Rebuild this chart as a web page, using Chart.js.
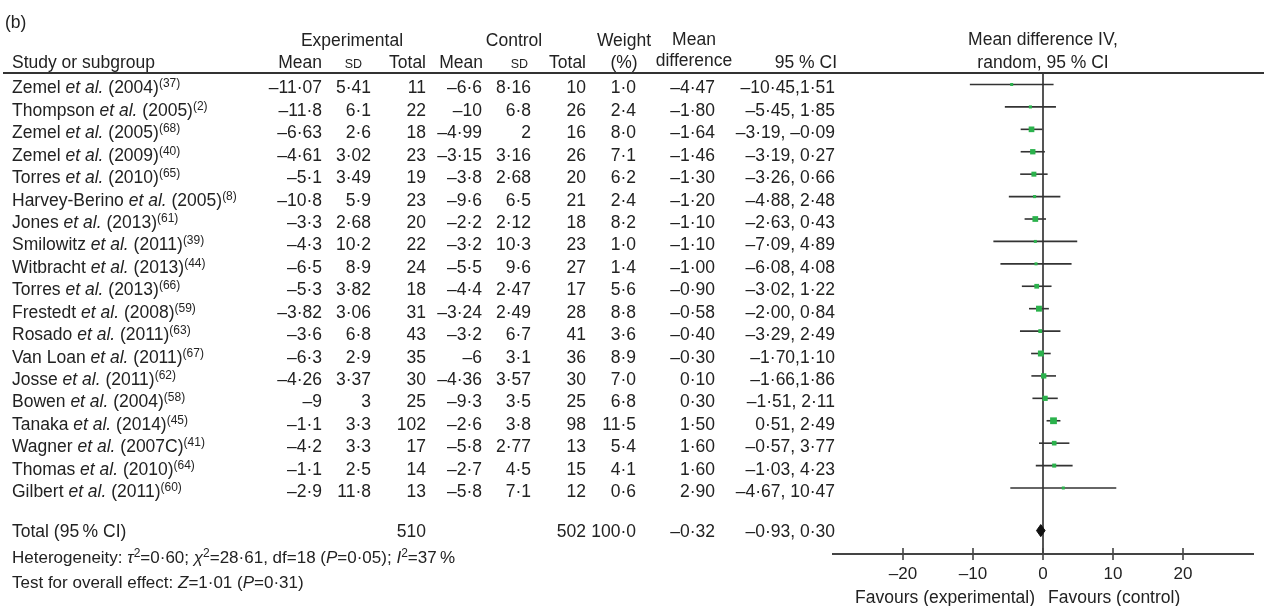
<!DOCTYPE html>
<html>
<head>
<meta charset="utf-8">
<script src="https://cdn.jsdelivr.net/npm/chart.js@4.4.0/dist/chart.umd.min.js"></script>
<style>
  body { margin: 0; background: #fff; }
  #wrap { position: relative; width: 1264px; height: 606px; overflow: hidden;
          font-family: 'Liberation Sans', Arial, sans-serif; color: #222; font-size: 17.5px; }
  #forest { position: absolute; left: 0; top: 0; }
  .t { position: absolute; line-height: 20px; white-space: nowrap; }
  .sup { font-size: 12px; vertical-align: 6px; line-height: 0; }
  .sc { font-size: 12.5px; }
  .foot { font-size: 17px; }
</style>
</head>
<body>
<div id="wrap"><canvas id="forest" width="1264" height="606"></canvas></div>
<script>
// study rows, top to bottom
const studyNames = ['Zemel', 'Thompson', 'Zemel', 'Zemel', 'Torres', 'Harvey-Berino', 'Jones', 'Smilowitz', 'Witbracht',
    'Torres', 'Frestedt', 'Rosado', 'Van Loan', 'Josse', 'Bowen', 'Tanaka', 'Wagner', 'Thomas', 'Gilbert'];
const studyYears = ['2004', '2005', '2005', '2009', '2010', '2005', '2013', '2011', '2013',
    '2013', '2008', '2011', '2011', '2011', '2004', '2014', '2007C', '2010', '2011'];
const studyRefs = ['37', '2', '68', '40', '65', '8', '61', '39', '44', '66', '59', '63', '67', '62', '58', '45', '41', '64', '60'];

const expMean = [-11.07, -11.8, -6.63, -4.61, -5.1, -10.8, -3.3, -4.3, -6.5, -5.3, -3.82, -3.6, -6.3, -4.26, -9, -1.1, -4.2, -1.1, -2.9];
const expSD = [5.41, 6.1, 2.6, 3.02, 3.49, 5.9, 2.68, 10.2, 8.9, 3.82, 3.06, 6.8, 2.9, 3.37, 3, 3.3, 3.3, 2.5, 11.8];
const expTotal = [11, 22, 18, 23, 19, 23, 20, 22, 24, 18, 31, 43, 35, 30, 25, 102, 17, 14, 13];
const ctlMean = [-6.6, -10, -4.99, -3.15, -3.8, -9.6, -2.2, -3.2, -5.5, -4.4, -3.24, -3.2, -6, -4.36, -9.3, -2.6, -5.8, -2.7, -5.8];
const ctlSD = [8.16, 6.8, 2, 3.16, 2.68, 6.5, 2.12, 10.3, 9.6, 2.47, 2.49, 6.7, 3.1, 3.57, 3.5, 3.8, 2.77, 4.5, 7.1];
const ctlTotal = [10, 26, 16, 26, 20, 21, 18, 23, 27, 17, 28, 41, 36, 30, 25, 98, 13, 15, 12];
const weights = [1.0, 2.4, 8.0, 7.1, 6.2, 2.4, 8.2, 1.0, 1.4, 5.6, 8.8, 3.6, 8.9, 7.0, 6.8, 11.5, 5.4, 4.1, 0.6];
const meanDiff = [-4.47, -1.80, -1.64, -1.46, -1.30, -1.20, -1.10, -1.10, -1.00, -0.90, -0.58, -0.40, -0.30, 0.10, 0.30, 1.50, 1.60, 1.60, 2.90];
const ciLow = [-10.45, -5.45, -3.19, -3.19, -3.26, -4.88, -2.63, -7.09, -6.08, -3.02, -2.00, -3.29, -1.70, -1.66, -1.51, 0.51, -0.57, -1.03, -4.67];
const ciHigh = [1.51, 1.85, -0.09, 0.27, 0.66, 2.48, 0.43, 4.89, 4.08, 1.22, 0.84, 2.49, 1.10, 1.86, 2.11, 2.49, 3.77, 4.23, 10.47];
const ciNoSpace = [0, 12, 13]; // rows printed as "a,b" in the original

// pooled result
const totalExp = 510;
const totalCtl = 502;
const totalWeight = 100.0;
const totalMD = -0.32;
const totalLow = -0.93;
const totalHigh = 0.30;

const xTicks = [-20, -10, 0, 10, 20];

// layout
const W = 1264;
const totalRowPos = 19.9;
const colRight = [322, 371, 426, 482, 531, 586, 636, 715, 835];
const green = '#2bb24c';

const fmt = (v, d) => (d == null ? String(v) : v.toFixed(d)).replace('-', '\u2013').replace('.', '\u00b7');

// CI lines, one small dataset per study
const ciSets = studyNames.map((n, i) => ({
    type: 'scatter',
    showLine: true,
    data: [{ x: ciLow[i], y: i }, { x: ciHigh[i], y: i }],
    borderColor: '#333',
    borderWidth: 1.6,
    pointRadius: 0,
    order: 2,
}));

const pointSet = {
    type: 'scatter',
    data: meanDiff.map((v, i) => ({ x: v, y: i })),
    pointStyle: 'rect',
    pointRadius: weights.map(w => Math.max(3, 2.0 * Math.sqrt(w)) / Math.SQRT2),
    backgroundColor: green,
    borderWidth: 0,
    order: 0,
};

const dh = 0.27;
const diamondSet = {
    type: 'scatter',
    showLine: true,
    data: [
        { x: totalLow, y: totalRowPos }, { x: totalMD, y: totalRowPos - dh },
        { x: totalHigh, y: totalRowPos }, { x: totalMD, y: totalRowPos + dh },
        { x: totalLow, y: totalRowPos },
    ],
    borderColor: '#111',
    borderWidth: 1,
    backgroundColor: '#111',
    fill: 'shape',
    pointRadius: 0,
    order: 0,
};

const upperTicks = {
    id: 'upperTicks',
    afterDatasetsDraw(chart) {
        const { ctx, scales: { x }, chartArea } = chart;
        ctx.save();
        ctx.strokeStyle = '#444';
        ctx.lineWidth = 1.6;
        xTicks.forEach(v => {
            const px = x.getPixelForValue(v);
            ctx.beginPath();
            ctx.moveTo(px, chartArea.bottom - 6);
            ctx.lineTo(px, chartArea.bottom);
            ctx.stroke();
        });
        ctx.restore();
    }
};

const chart = new Chart(document.getElementById('forest').getContext('2d'), {
    type: 'scatter',
    data: { datasets: [pointSet, diamondSet, ...ciSets] },
    options: {
        responsive: false,
        animation: false,
        events: [],
        layout: { padding: { left: 833, right: 11, top: 73, bottom: 0 } },
        plugins: { legend: { display: false }, tooltip: { enabled: false } },
        scales: {
            x: {
                type: 'linear',
                min: -30,
                max: 30,
                afterBuildTicks: s => { s.ticks = xTicks.map(v => ({ value: v })); },
                afterFit: s => { s.height = 52; },
                grid: {
                    color: c => (c.tick && c.tick.value === 0 ? '#555' : 'rgba(0,0,0,0)'),
                    lineWidth: 2,
                    tickColor: '#444',
                    tickLength: 6,
                    tickWidth: 1.6,
                },
                border: { color: '#444', width: 2 },
                ticks: {
                    color: '#222',
                    font: { family: "'Liberation Sans', Arial, sans-serif", size: 17 },
                    padding: 4,
                    callback: v => fmt(v),
                },
            },
            y: { type: 'linear', reverse: true, min: -0.513, max: 20.944, display: false },
        },
    },
    plugins: [upperTicks],
});

// table text, placed on the chart's own row scale
const wrap = document.getElementById('wrap');
function put(html, x, y, align, cls) {
    const d = document.createElement('div');
    d.className = 't' + (cls ? ' ' + cls : '');
    d.innerHTML = html;
    d.style.top = (y - 10) + 'px';
    if (align === 'right') {
        d.style.right = (W - x) + 'px';
    } else if (align === 'center') {
        d.style.left = (x - 150) + 'px';
        d.style.width = '300px';
        d.style.textAlign = 'center';
    } else {
        d.style.left = x + 'px';
    }
    wrap.appendChild(d);
}

const yS = chart.scales.y;
const xS = chart.scales.x;
const zeroX = xS.getPixelForValue(0);

// header
put('(b)', 5, 22);
put('Experimental', 352, 40, 'center');
put('Control', 514, 40, 'center');
put('Weight', 624, 40, 'center');
put('Mean', 694, 39, 'center');
put('Mean difference IV,', zeroX, 39, 'center');
put('Study or subgroup', 12, 62);
put('Mean', colRight[0], 62, 'right');
put('<span class="sc">SD</span>', 362, 62, 'right');
put('Total', colRight[2], 62, 'right');
put('Mean', colRight[3] + 1, 62, 'right');
put('<span class="sc">SD</span>', 528, 62, 'right');
put('Total', colRight[5], 62, 'right');
put('(%)', 624, 62, 'center');
put('difference', 694, 60, 'center');
put('95 % CI', 837, 62, 'right');
put('random, 95 % CI', zeroX, 62, 'center');

const rule = document.createElement('div');
rule.style.cssText = 'position:absolute;left:3px;top:72px;width:1261px;height:2px;background:#333;';
wrap.appendChild(rule);

studyNames.forEach((name, i) => {
    const y = yS.getPixelForValue(i) + 3;
    put(`${name} <i>et al.</i> (${studyYears[i]})<span class="sup">(${studyRefs[i]})</span>`, 12, y);
    const sep = ciNoSpace.includes(i) ? ',' : ', ';
    const cells = [fmt(expMean[i]), fmt(expSD[i]), expTotal[i], fmt(ctlMean[i]), fmt(ctlSD[i]), ctlTotal[i],
        fmt(weights[i], 1), fmt(meanDiff[i], 2), fmt(ciLow[i], 2) + sep + fmt(ciHigh[i], 2)];
    cells.forEach((c, k) => put(String(c), colRight[k], y, 'right'));
});

const ty = yS.getPixelForValue(totalRowPos);
put('Total (95\u2009% CI)', 12, ty);
put(String(totalExp), colRight[2], ty, 'right');
put(String(totalCtl), colRight[5], ty, 'right');
put(fmt(totalWeight, 1), colRight[6], ty, 'right');
put(fmt(totalMD, 2), colRight[7], ty, 'right');
put(fmt(totalLow, 2) + ', ' + fmt(totalHigh, 2), colRight[8], ty, 'right');

put('Heterogeneity: <i>\u03c4</i><span class="sup">2</span>=0\u00b760; <i>\u03c7</i><span class="sup">2</span>=28\u00b761, df=18 (<i>P</i>=0\u00b705); <i>I</i><span class="sup">2</span>=37\u2009%', 12, 558, 'left', 'foot');
put('Test for overall effect: <i>Z</i>=1\u00b701 (<i>P</i>=0\u00b731)', 12, 583, 'left', 'foot');

put('Favours (experimental)', zeroX - 8, 597, 'right');
put('Favours (control)', zeroX + 5, 597, 'left');
</script>
</body>
</html>
